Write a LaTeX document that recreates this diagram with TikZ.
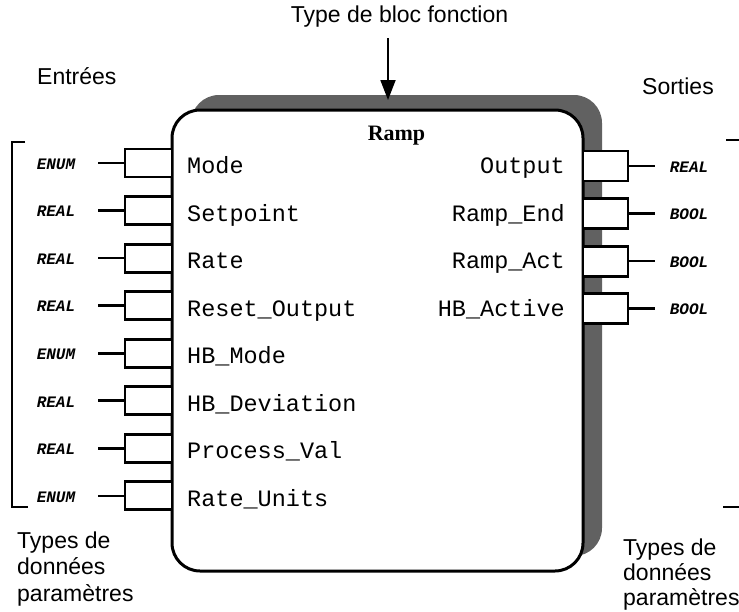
\documentclass[tikz,border=0pt]{standalone}
\usepackage{fontspec}
\setmainfont{Liberation Sans}
\setmonofont{Liberation Mono}
\newfontfamily\rampfont{Liberation Serif}
\usetikzlibrary{arrows.meta}

\begin{document}
\begin{tikzpicture}[x=1pt,y=-1pt,
  blockbody/.style={draw, line width=3pt, rounded corners=28pt, minimum width=411pt,
    minimum height=461pt, inner sep=0pt, fill=white},
  blockshade/.style={fill=black!62, rounded corners=28pt, minimum width=411pt,
    minimum height=461pt, inner sep=0pt},
  inport/.style={draw, line width=2.8pt, fill=white, minimum width=47pt,
    minimum height=28pt, inner sep=0pt},
  outport/.style={draw, line width=2.8pt, fill=white, minimum width=45pt,
    minimum height=30pt, inner sep=0pt},
  stub/.style={line width=2.6pt},
  pname/.style={font=\ttfamily\fontsize{23.5}{26}\selectfont, inner sep=0pt},
  dtype/.style={font=\ttfamily\bfseries\itshape\fontsize{16}{18}\selectfont, inner sep=0pt},
  caption/.style={font=\fontsize{23}{26.5}\selectfont, inner sep=0pt, align=left},
  bracket/.style={line width=1.3pt},
]
\useasboundingbox (0,0) rectangle (739,611);

% function block with its shaded extrusion
\node[blockshade] (shade) at (396.5,325.5) {};
\node[blockbody] (block) at (377.5,340.5) {};
\node[font=\rampfont\bfseries\fontsize{22}{24}\selectfont, anchor=base, inner sep=0pt]
  (rampname) at (396.5,140) {Ramp};

% block type caption and its arrow
\node[caption, anchor=base] (fbtype) at (399.5,22) {Type de bloc fonction};
\coordinate (atop) at (388,38);
\coordinate (atip) at (388,100);
\draw[line width=1.8pt, -{Triangle[length=20pt,width=15pt]}] (atop) -- (atip);

% inputs
\foreach \pn/\dt [count=\k from 0] in {Mode/ENUM, Setpoint/REAL, Rate/REAL,
    Reset\_Output/REAL, HB\_Mode/ENUM, HB\_Deviation/REAL, Process\_Val/REAL,
    Rate\_Units/ENUM}{
  \pgfmathsetmacro{\cy}{167+47.55*\k}
  \node[inport] (in\k) at (148.5,\cy-4) {};
  \coordinate (ins\k) at (98,\cy-4);
  \draw[stub] (ins\k) -- (in\k.west);
  \node[dtype] (intype\k) at (56,\cy-3) {\dt};
  \node[pname, anchor=base west] (inname\k) at (187,\cy+6.5) {\pn};
}

% outputs
\foreach \pn/\dt [count=\k from 0] in {Output/REAL, Ramp\_End/BOOL,
    Ramp\_Act/BOOL, HB\_Active/BOOL}{
  \pgfmathsetmacro{\cy}{167+47.55*\k}
  \node[outport] (out\k) at (605.5,\cy-1) {};
  \coordinate (outs\k) at (655,\cy-1);
  \draw[stub] (out\k.east) -- (outs\k);
  \node[dtype] (outtype\k) at (689,\cy) {\dt};
  \node[pname, anchor=base east] (outname\k) at (565,\cy+6.5) {\pn};
}

% group captions
\node[caption, anchor=base west] (entrees) at (37,84) {Entrées};
\node[caption, anchor=base west] (sorties) at (642,94) {Sorties};
\node[caption, anchor=north west] (intypes) at (17,531.3)
  {Types de\\données\\paramètres};
\node[font=\fontsize{23}{25}\selectfont, inner sep=0pt, align=left, anchor=north west]
  (outtypes) at (623,538.3) {Types de\\données\\paramètres};

% brackets grouping the parameter data types
\coordinate (lbt) at (25,142);
\coordinate (lbtc) at (12,142);
\coordinate (lbbc) at (12,507);
\coordinate (lbb) at (28,507);
\draw[bracket] (lbt) -- (lbtc) -- (lbbc) -- (lbb);
\coordinate (rbt) at (726,140);
\coordinate (rbte) at (739,140);
\coordinate (rbb) at (723,507);
\coordinate (rbbe) at (739,507);
\draw[bracket] (rbt) -- (rbte);
\draw[bracket] (rbb) -- (rbbe);
\end{tikzpicture}
\end{document}
